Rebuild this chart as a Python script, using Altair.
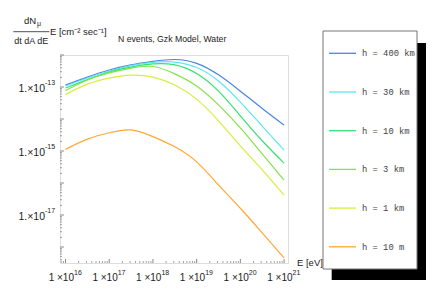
import altair as alt
import pandas as pd
import numpy as np

# ---------------- data (log10 values) ----------------
log_energy = [16.0, 16.5, 17.0, 17.5, 18.0, 18.5, 19.0, 19.5, 20.0, 20.5, 21.0]
series_names = ["h = 400 km", "h = 30 km", "h = 10 km", "h = 3 km", "h = 1 km", "h = 10 m"]
series_colors = ["#4a84e4", "#5ae8f2", "#34e070", "#84e24a", "#d6ee3c", "#ffa834"]

flux_400km = [-12.94, -12.69, -12.47, -12.31, -12.20, -12.14, -12.26, -12.62, -13.13, -13.67, -14.19]
flux_30km = [-12.97, -12.72, -12.50, -12.33, -12.23, -12.22, -12.39, -12.81, -13.47, -14.22, -14.97]
flux_10km = [-13.03, -12.77, -12.53, -12.38, -12.28, -12.31, -12.58, -13.13, -13.90, -14.68, -15.38]
flux_3km = [-13.11, -12.78, -12.56, -12.41, -12.36, -12.59, -12.97, -13.56, -14.28, -15.09, -15.91]
flux_1km = [-13.23, -12.91, -12.72, -12.63, -12.69, -12.94, -13.38, -14.06, -14.84, -15.59, -16.38]
flux_10m = [-14.95, -14.63, -14.43, -14.34, -14.55, -14.87, -15.34, -16.06, -16.79, -17.56, -18.34]
all_flux = [flux_400km, flux_30km, flux_10km, flux_3km, flux_1km, flux_10m]

x_label_exps = [16, 17, 18, 19, 20, 21]
y_label_exps = [-13, -15, -17]
y_major_exps = [-18, -17, -16, -15, -14, -13, -12]

rows = []
for name, fl in zip(series_names, all_flux):
    for le, lf in zip(log_energy, fl):
        rows.append({"series": name, "E": 10 ** le, "flux": 10 ** lf})
df = pd.DataFrame(rows)

# ticks
x_major = pd.DataFrame({"E": [10.0 ** k for k in x_label_exps]})
x_minor = pd.DataFrame({"E": [m * 10.0 ** k for k in range(15, 21) for m in range(2, 10)
                              if 15.874 <= np.log10(m * 10.0 ** k) <= 21.09]})
y_major = pd.DataFrame({"v": [10.0 ** k for k in y_major_exps]})
y_minor = pd.DataFrame({"v": [m * 10.0 ** k for k in range(-19, -12) for m in range(2, 10)
                              if -18.5 <= np.log10(m * 10.0 ** k) <= -12.0]})

x_lab = pd.DataFrame({"E": [10.0 ** k for k in x_label_exps],
                      "base": ["1 \u00d710"] * len(x_label_exps),
                      "exp": [str(k) for k in x_label_exps]})
y_lab = pd.DataFrame({"v": [10.0 ** k for k in y_label_exps],
                      "base": ["1.\u00d710"] * len(y_label_exps),
                      "exp": [str(k) for k in y_label_exps]})
legend_df = pd.DataFrame({"series": series_names, "row": list(range(len(series_names)))})

FONT = "Liberation Sans, Arial, sans-serif"
MONO = "Liberation Mono, Courier New, monospace"
W, H = 228, 208
AX = "#8a8a8a"
TXT = "#222222"

xscale = alt.Scale(type="log", domain=[10 ** 15.874, 10 ** 21.09], nice=False, zero=False)
yscale = alt.Scale(type="log", domain=[10 ** -18.5, 10 ** -12.0], nice=False, zero=False)
cscale = alt.Scale(domain=series_names, range=series_colors)
dom_axis = alt.Axis(title=None, labels=False, ticks=False, grid=False, domainColor=AX, domainWidth=1)

one = pd.DataFrame({"a": [0]})

lines = alt.Chart(df).mark_line(strokeWidth=1.2, interpolate="natural").encode(
    x=alt.X("E:Q", scale=xscale, axis=dom_axis),
    y=alt.Y("flux:Q", scale=yscale, axis=dom_axis),
    color=alt.Color("series:N", scale=cscale, legend=None),
)

xt_major = alt.Chart(x_major).mark_rule(color=AX, strokeWidth=1).encode(
    x=alt.X("E:Q", scale=xscale, axis=None), y=alt.value(H), y2=alt.value(H - 4))
xt_minor = alt.Chart(x_minor).mark_rule(color=AX, strokeWidth=0.8).encode(
    x=alt.X("E:Q", scale=xscale, axis=None), y=alt.value(H), y2=alt.value(H - 2))
yt_major = alt.Chart(y_major).mark_rule(color=AX, strokeWidth=1).encode(
    y=alt.Y("v:Q", scale=yscale, axis=None), x=alt.value(0), x2=alt.value(4))
yt_minor = alt.Chart(y_minor).mark_rule(color=AX, strokeWidth=0.8).encode(
    y=alt.Y("v:Q", scale=yscale, axis=None), x=alt.value(0), x2=alt.value(2))

xl_base = alt.Chart(x_lab).mark_text(align="right", baseline="alphabetic", dx=8.5, fontSize=10,
                                     font=FONT, color=TXT).encode(
    x=alt.X("E:Q", scale=xscale, axis=None), y=alt.value(226), text="base:N")
xl_exp = alt.Chart(x_lab).mark_text(align="left", baseline="alphabetic", dx=8.5, fontSize=7,
                                    font=FONT, color=TXT).encode(
    x=alt.X("E:Q", scale=xscale, axis=None), y=alt.value(220), text="exp:N")
yl_base = alt.Chart(y_lab).mark_text(align="right", baseline="middle", dy=1.5, fontSize=10.5,
                                     font=FONT, color=TXT).encode(
    y=alt.Y("v:Q", scale=yscale, axis=None), x=alt.value(-15), text="base:N")
yl_exp = alt.Chart(y_lab).mark_text(align="left", baseline="middle", dy=-4, fontSize=7,
                                    font=FONT, color=TXT).encode(
    y=alt.Y("v:Q", scale=yscale, axis=None), x=alt.value(-15), text="exp:N")


def txt(s, x, y, size=9, align="left", font=FONT):
    return alt.Chart(one).mark_text(text=s, align=align, baseline="middle", fontSize=size,
                                    font=font, color=TXT).encode(x=alt.value(x), y=alt.value(y))


title = txt("N events, Gzk Model, Water", 58, -16, 8.7)
xtitle = txt("E [eV]", 237, 208, 9.5)
num = txt("dN", -30, -34.5, 9.5, "center")
mu = txt("\u03bc", -23, -31, 7)
bar = alt.Chart(one).mark_rule(color=TXT, strokeWidth=0.8).encode(
    x=alt.value(-46.7), x2=alt.value(-10.7), y=alt.value(-23.3))
den = txt("dt dA dE", -28.7, -14.5, 9, "center")
unit = txt("E [cm\u207b\u00b2 sec\u207b\u00b9]", -10, -23.5, 9.5)

shadow = alt.Chart(one).mark_rect(color="black").encode(
    x=alt.value(271.7), x2=alt.value(366), y=alt.value(-12), y2=alt.value(225))
box = alt.Chart(one).mark_rect(fill="white", stroke="#777777", strokeWidth=1).encode(
    x=alt.value(263), x2=alt.value(357), y=alt.value(-24), y2=alt.value(214))

leg_lines = alt.Chart(legend_df).transform_calculate(ly="-1.7 + datum.row * 38.7").mark_rule(
    strokeWidth=1.3).encode(
    x=alt.value(269), x2=alt.value(296),
    y=alt.Y("ly:Q", scale=None, axis=None),
    color=alt.Color("series:N", scale=cscale, legend=None))
leg_text = alt.Chart(legend_df).transform_calculate(ly="-1.7 + datum.row * 38.7").mark_text(
    align="left", baseline="middle", fontSize=8.8, font=MONO, color="#444444").encode(
    x=alt.value(302), y=alt.Y("ly:Q", scale=None, axis=None), text="series:N")

chart = alt.layer(
    lines, xt_major, xt_minor, yt_major, yt_minor, xl_base, xl_exp, yl_base, yl_exp,
    title, xtitle, num, mu, bar, den, unit, shadow, box, leg_lines, leg_text
).properties(
    width=W, height=H,
    autosize=alt.AutoSizeParams(type="none"),
    padding={"left": 52, "top": 47, "right": 140, "bottom": 29},
).configure_view(stroke=None).configure(background="white")

chart.save("out.html", embed_options={"renderer": "svg", "actions": False})
